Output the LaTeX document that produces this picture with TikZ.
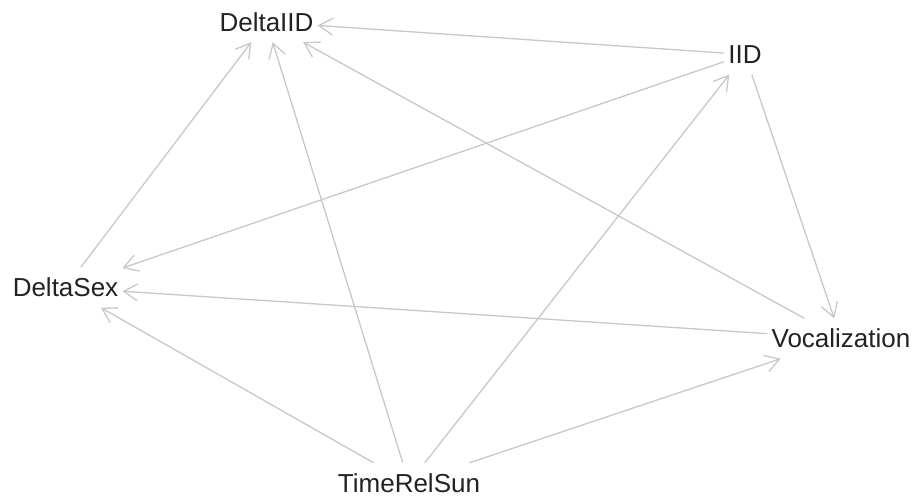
\documentclass[tikz,border=0pt]{standalone}
\usepackage{fontspec}
\setmainfont{Liberation Sans}
\usetikzlibrary{arrows.meta}
\definecolor{edgegray}{RGB}{200,200,200}
\definecolor{labelink}{RGB}{34,34,34}
\begin{document}
\begin{tikzpicture}[x=1pt,y=-1pt,
  vertex/.style={rectangle,inner xsep=4pt,minimum height=40pt,
    text=labelink,font=\fontsize{26}{30}\selectfont},
  link/.style={draw=edgegray,line width=1.3pt,
    -{Straight Barb[length=14pt,width=17pt,line width=1.3pt]}}]
\useasboundingbox (0,0) rectangle (916,497);
\node[vertex] (diid) at (266.5,22) {DeltaIID};
\node[vertex] (iid)  at (745,54.5) {IID};
\node[vertex] (dsex) at (65.5,287.5) {DeltaSex};
\node[vertex] (voc)  at (841,338.5) {Vocalization};
\node[vertex] (trs)  at (409,483) {TimeRelSun};
\draw[link] (iid) -- (diid);
\draw[link] (iid) -- (dsex);
\draw[link] (iid) -- (voc);
\draw[link] (voc) -- (diid);
\draw[link] (voc) -- (dsex);
\draw[link] (dsex) -- (diid);
\draw[link] (trs) -- (diid);
\draw[link] (trs) -- (iid);
\draw[link] (trs) -- (dsex);
\draw[link] (trs) -- (voc);
\end{tikzpicture}
\end{document}
